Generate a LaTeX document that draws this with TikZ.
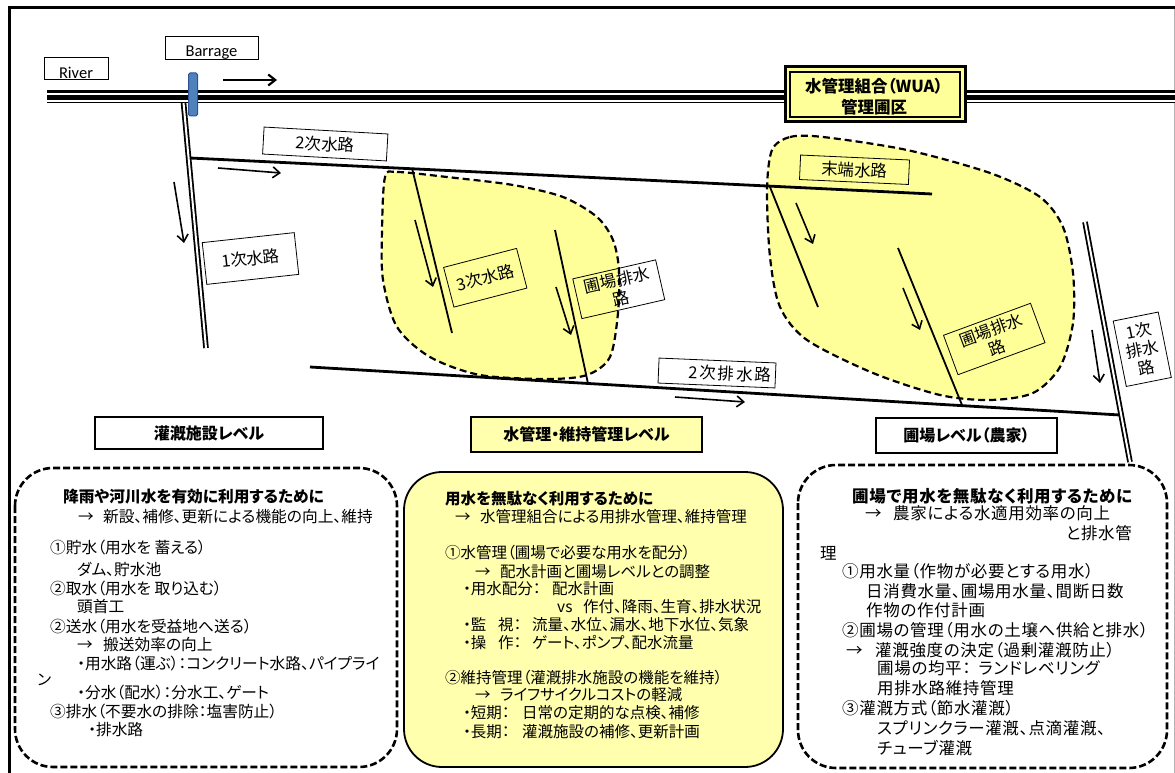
\documentclass[tikz,border=0pt]{standalone}
\usepackage{fontspec}
\setmainfont{Carlito}
\newfontfamily\jp[RawFeature=+palt]{Noto Sans CJK JP}
\newfontfamily\jpw[RawFeature=+palt, LetterSpace=4]{Noto Sans CJK JP}
\newfontfamily\jpww[RawFeature=+palt, LetterSpace=12]{Noto Sans CJK JP}
\usetikzlibrary{arrows.meta}
\definecolor{blobY}{HTML}{FFFF99}
\definecolor{boxY}{HTML}{FFFFAE}
\definecolor{barBlue}{HTML}{4F81BD}
\definecolor{barEdge}{HTML}{2F528F}
\begin{document}
\begin{tikzpicture}[x=1pt,y=-1pt,
  lbl/.style={draw, line width=0.8pt, inner sep=0pt, align=center, font=\jp\fontsize{16.5}{19}\selectfont},
  flow/.style={-{Straight Barb[length=7pt,width=11pt]}, line width=1.6pt},
  canal/.style={line width=2.8pt},
  ditch/.style={line width=1.8pt},
  dbl/.style={draw, line width=1.8pt, double=white, double distance=2pt},
  blobline/.style={draw, line width=2.2pt, dash pattern=on 7pt off 4pt},
  lvl/.style={draw, line width=1.8pt, inner sep=0pt, font=\jp\bfseries\fontsize{16}{18}\selectfont},
  bigbox/.style={line width=2.6pt, rounded corners=38pt},
  tL/.style={anchor=base west, inner sep=0pt, font=\jp\fontsize{15.7}{17}\selectfont},
  tM/.style={anchor=base west, inner sep=0pt, font=\jp\fontsize{15.5}{17}\selectfont},
  tR/.style={anchor=base west, inner sep=0pt, font=\jpw\fontsize{16.5}{18}\selectfont}]
\useasboundingbox (0,0) rectangle (1175,773);
% outer frame
\draw[line width=3pt] (8,7.5) -- (1175,7.5);
\draw[line width=2.5pt] (9.5,6) -- (9.5,773);
\draw[black!30, line width=0.8pt] (1174,9) -- (1174,773);

% blobs
\fill[blobY] plot[smooth cycle] coordinates {(385,177) (397,172) (447,177) (513,185) (563,197) (597,217) (613,240) (619,270) (618,313) (610,357) (587,375) (547,379) (480,375) (430,357) (397,327) (383,280) (382,230)};
\fill[blobY] plot[smooth cycle] coordinates {(772,150) (790,137) (823,137) (907,150) (990,173) (1040,197) (1063,227) (1073,273) (1073,323) (1060,367) (1033,393) (990,400) (940,395) (873,373) (807,340) (780,307) (770,257) (767,190)};

% coordinates
\coordinate (pcTop) at (183,97);
\coordinate (pcEnd) at (206,348);
\coordinate (scStart) at (190,158);
\coordinate (scEnd) at (932,194);
\coordinate (t1a) at (412,168); \coordinate (t1b) at (452,333);
\coordinate (t2a) at (770,187); \coordinate (t2b) at (818,307);
\coordinate (f1a) at (555,230); \coordinate (f1b) at (588,383.5);
\coordinate (f2a) at (898,248); \coordinate (f2b) at (962,405);
\coordinate (sdA) at (310,367); \coordinate (sdB) at (1120,415);
\coordinate (pdA) at (1085,222); \coordinate (pdB) at (1130,462);

% canals
\draw[dbl] (pcTop) -- (pcEnd);
\fill (47,90) rectangle (1175,103.3);
\draw[white, line width=2.3pt] (47,93.8) -- (1175,93.8);
\draw[white, line width=1.6pt] (47,100.8) -- (1175,100.8);
\draw[canal] (scStart) -- (scEnd);
\draw[ditch] (t1a) -- (t1b);
\draw[ditch] (t2a) -- (t2b);
\draw[ditch] (f1a) -- (f1b);
\draw[ditch] (f2a) -- (f2b);
\draw[canal] (sdA) -- (sdB);
\draw[dbl] (pdA) -- (pdB);

% blob borders
\draw[blobline] plot[smooth cycle] coordinates {(385,177) (397,172) (447,177) (513,185) (563,197) (597,217) (613,240) (619,270) (618,313) (610,357) (587,375) (547,379) (480,375) (430,357) (397,327) (383,280) (382,230)};
\draw[blobline] plot[smooth cycle] coordinates {(772,150) (790,137) (823,137) (907,150) (990,173) (1040,197) (1063,227) (1073,273) (1073,323) (1060,367) (1033,393) (990,400) (940,395) (873,373) (807,340) (780,307) (770,257) (767,190)};

% barrage
\node[draw=barEdge, fill=barBlue, line width=1pt, rounded corners=1.5pt, minimum width=9pt, minimum height=43pt, inner sep=0pt] (barrage) at (193,94.5) {};

% flow arrows
\coordinate (a1s) at (223,80); \coordinate (a1e) at (277,80);
\draw[flow, line width=2.2pt] (a1s) -- (a1e);
\coordinate (a2s) at (218,168); \coordinate (a2e) at (281,173);
\draw[flow] (a2s) -- (a2e);
\coordinate (a3s) at (174,182); \coordinate (a3e) at (184,243);
\draw[flow] (a3s) -- (a3e);
\coordinate (a4s) at (415,220); \coordinate (a4e) at (433,287);
\draw[flow] (a4s) -- (a4e);
\coordinate (a5s) at (556,287); \coordinate (a5e) at (571,335);
\draw[flow] (a5s) -- (a5e);
\coordinate (a6s) at (796,203); \coordinate (a6e) at (813,244);
\draw[flow] (a6s) -- (a6e);
\coordinate (a7s) at (903,288); \coordinate (a7e) at (920,330);
\draw[flow] (a7s) -- (a7e);
\coordinate (a8s) at (675,397); \coordinate (a8e) at (745,402);
\draw[flow] (a8s) -- (a8e);
\coordinate (a9s) at (1092,330); \coordinate (a9e) at (1100,383);
\draw[flow] (a9s) -- (a9e);

% River / Barrage labels (text clipped at the bottom)
\node[draw, line width=0.8pt, minimum width=64pt, minimum height=22pt, inner sep=0pt] (river) at (76,68) {};
\begin{scope}
\clip (river.north west) rectangle (river.south east);
\node[anchor=base, inner sep=0pt, font=\fontsize{16.5}{18}\selectfont] (riverT) at (76,78.5) {River};
\end{scope}
\node[draw, line width=0.8pt, minimum width=93pt, minimum height=23pt, inner sep=0pt] (barbox) at (211.5,47.5) {};
\begin{scope}
\clip (barbox.north west) rectangle (barbox.south east);
\node[anchor=base, inner sep=0pt, font=\fontsize{16.5}{18}\selectfont] (barT) at (211.5,56.5) {Barrage};
\end{scope}

% label boxes
\node[lbl, minimum width=92.5pt, minimum height=42pt, rotate=6.2] (l1) at (250.5,258.5) {1次水路};
\node[lbl, minimum width=124pt, minimum height=27pt, rotate=-3.2] (l2) at (325.25,144) {2次水路};
\node[lbl, minimum width=75.4pt, minimum height=41pt, rotate=14.6] (l3) at (485.25,277.75) {3次水路};
\node[lbl, minimum width=85pt, minimum height=40.8pt, rotate=12.9] (l4) at (618.75,289.25) {圃場排水\\路};
\node[lbl, font=\jpww\fontsize{16.5}{19}\selectfont, minimum width=117pt, minimum height=25pt, rotate=-2.4] (l5) at (717,373) {\hspace*{26pt}2次排水路};
\node[lbl, minimum width=109pt, minimum height=24.5pt, rotate=-2.6] (l6) at (854.5,169.75) {末端水路};
\node[lbl, minimum width=92.7pt, minimum height=42pt, rotate=20.2] (l7) at (994.25,339) {圃場排水\\路};
\node[lbl, minimum width=45.9pt, minimum height=66.7pt, rotate=11.3] (l8) at (1142.25,349.25) {1次\\排水\\路};

% WUA box
\node[draw, line width=3pt, fill=blobY, minimum width=180pt, minimum height=55pt, inner sep=0pt] (wua) at (875,94.5) {};
\node[draw, line width=1.2pt, minimum width=170pt, minimum height=45pt, inner sep=0pt] (wuaIn) at (wua) {};
\node[align=center, inner sep=0pt, font=\jp\bfseries\fontsize{16.5}{21}\selectfont] (wuaT) at (874,97) {水管理組合（WUA）\\管理圃区};

% level boxes
\node[lvl, minimum width=228pt, minimum height=32pt] (lev1) at (209,433) {灌漑施設レベル};
\node[lvl, fill=boxY, minimum width=231pt, minimum height=35pt] (lev2) at (586.5,434.5) {水管理・維持管理レベル};
\node[lvl, minimum width=181pt, minimum height=35pt] (lev3) at (966.5,435.5) {圃場レベル（農家）};

% bottom boxes
\draw[bigbox, dash pattern=on 7pt off 3pt] (15,468) rectangle (397,767);
\draw[bigbox, fill=boxY, line width=1.8pt] (404,472) rectangle (783,767);
\draw[bigbox, dash pattern=on 7pt off 3pt] (798,465) rectangle (1167,768);

% left text
\foreach \x/\y/\t [count=\i] in {
  63/502.5/{\bfseries 降雨や河川水を有効に利用するために},
  78/522.5/→, 103/522.5/新設、補修、更新による機能の向上、維持,
  50/553.5/①貯水（用水を 蓄える）,
  77/575.5/ダム、貯水池,
  50/594.5/②取水（用水を 取り込む）,
  77/612/頭首工,
  50/632/②送水（用水を受益地へ送る）,
  77/650.5/→, 103/650.5/搬送効率の向上,
  77/669/・用水路（運ぶ）：コンクリート水路、パイプライ,
  37/685/ン,
  77/698.5/・分水（配水）：分水工、ゲート,
  50/717.5/③排水（不要水の排除：塩害防止）,
  88/735.5/・排水路}
  \node[tL] (L\i) at (\x,\y) {\t};

% middle text
\foreach \x/\y/\t [count=\i] in {
  445/504/{\bfseries 用水を無駄なく利用するために},
  455/522/→, 480/522/水管理組合による用排水管理、維持管理,
  445/558.5/①水管理（圃場で必要な用水を配分）,
  475/577/→, 500/577/配水計画と圃場レベルとの調整,
  463/594.5/・用水配分：, 552/594.5/配水計画,
  557/612/vs, 583/612/作付、降雨、生育、排水状況,
  463/630.5/・監, 498/630.5/視：, 532/630.5/流量、水位、漏水、地下水位、気象,
  463/648.5/・操, 498/648.5/作：, 532/648.5/ゲート、ポンプ、配水流量,
  445/683/②維持管理（灌漑排水施設の機能を維持）,
  475/700.5/→, 500/700.5/ライフサイクルコストの軽減,
  463/718.5/・短期：, 522/718.5/日常の定期的な点検、補修,
  463/737/・長期：, 522/737/灌漑施設の補修、更新計画}
  \node[tM] (M\i) at (\x,\y) {\t};

% right text
\foreach \x/\y/\t [count=\i] in {
  852/502.5/{\bfseries 圃場で用水を無駄なく利用するために},
  865/519/→, 893/519/農家による水適用効率の向上,
  820/559/理,
  842/577.5/①用水量（作物が必要とする用水）,
  866/597.5/日消費水量、圃場用水量、間断日数,
  866/616/作物の作付計画,
  842/636/②圃場の管理（用水の土壌へ供給と排水）,
  846/656/→, 875/656/灌漑強度の決定（過剰灌漑防止）,
  877/674/{圃場の均平：\hspace{8pt}ランドレベリング},
  877/694/用排水路維持管理,
  842/714/③灌漑方式（節水灌漑）,
  877/734/スプリンクラー灌漑、点滴灌漑、,
  877/754/チューブ灌漑}
  \node[tR] (R\i) at (\x,\y) {\t};
\node[tR, anchor=base east] (Rk) at (1132,539) {と排水管};
\end{tikzpicture}
\end{document}
